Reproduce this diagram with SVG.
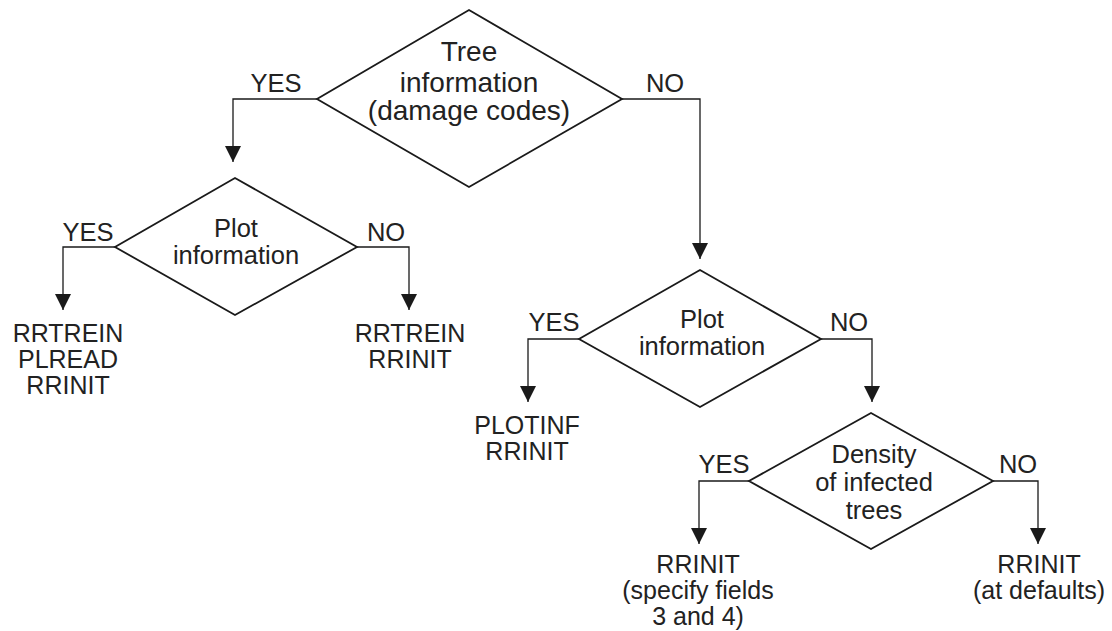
<svg xmlns="http://www.w3.org/2000/svg" width="1112" height="631" viewBox="0 0 1112 631">
<defs>
<marker id="arr" markerUnits="userSpaceOnUse" markerWidth="16" markerHeight="16" viewBox="0 0 16 16" refX="16" refY="8" orient="auto">
<path d="M0,0 L16,8 L0,16 Z" fill="#1a1a1a"/>
</marker>
<style>
.d{fill:#fff;stroke:#1a1a1a;stroke-width:1.8}
.c{fill:none;stroke:#1a1a1a;stroke-width:1.3;marker-end:url(#arr)}
text{font-family:"Liberation Sans",Arial,Helvetica,sans-serif;fill:#222;text-anchor:middle}
.t{font-size:25.5px}
.t1{font-size:28px}
.r{font-size:25px}
.l{font-size:25.5px}
</style>
</defs>
<rect width="1112" height="631" fill="#fff"/>
<g id="connectors">
<polyline class="c" points="317,99 233,99 233,162"/>
<polyline class="c" points="622,99 700,99 700,259"/>
<polyline class="c" points="115,247 63,247 63,310"/>
<polyline class="c" points="357,247 409,247 409,310"/>
<polyline class="c" points="579,339 528,339 528,402"/>
<polyline class="c" points="821,339 872,339 872,402"/>
<polyline class="c" points="749,481 699,481 699,544"/>
<polyline class="c" points="993,481 1038,481 1038,544"/>
<text class="l" x="276" y="92">YES</text>
<text class="l" x="665" y="92">NO</text>
<text class="l" x="88" y="241">YES</text>
<text class="l" x="386" y="241">NO</text>
<text class="l" x="554" y="331">YES</text>
<text class="l" x="849" y="331">NO</text>
<text class="l" x="724" y="473">YES</text>
<text class="l" x="1018" y="473">NO</text>
</g>
<g id="tree-info">
<polygon class="d" points="469,10 622,99 469,187 317,99"/>
<text class="t1" x="469" y="61">Tree</text>
<text class="t1" x="469" y="92">information</text>
<text class="t1" x="469" y="120">(damage codes)</text>
</g>
<g id="plot-info-left">
<polygon class="d" points="235,178 357,247 235,315 115,247"/>
<text class="t" x="236" y="237">Plot</text>
<text class="t" x="236" y="264">information</text>
</g>
<g id="plot-info-right">
<polygon class="d" points="700,270 821,339 700,407 579,339"/>
<text class="t" x="702" y="328">Plot</text>
<text class="t" x="702" y="355">information</text>
</g>
<g id="density">
<polygon class="d" points="871,413 993,481 871,549 749,481"/>
<text class="t" x="874" y="463">Density</text>
<text class="t" x="874" y="491">of infected</text>
<text class="t" x="874" y="519">trees</text>
</g>
<g id="result-1">
<text class="r" x="68" y="342">RRTREIN</text>
<text class="r" x="68" y="368">PLREAD</text>
<text class="r" x="68" y="394">RRINIT</text>
</g>
<g id="result-2">
<text class="r" x="410" y="342">RRTREIN</text>
<text class="r" x="410" y="368">RRINIT</text>
</g>
<g id="result-3">
<text class="r" x="527" y="434">PLOTINF</text>
<text class="r" x="527" y="460">RRINIT</text>
</g>
<g id="result-4">
<text class="r" x="698" y="573">RRINIT</text>
<text class="r" x="698" y="599">(specify fields</text>
<text class="r" x="698" y="625">3 and 4)</text>
</g>
<g id="result-5">
<text class="r" x="1039" y="573">RRINIT</text>
<text class="r" x="1039" y="599">(at defaults)</text>
</g>
</svg>
